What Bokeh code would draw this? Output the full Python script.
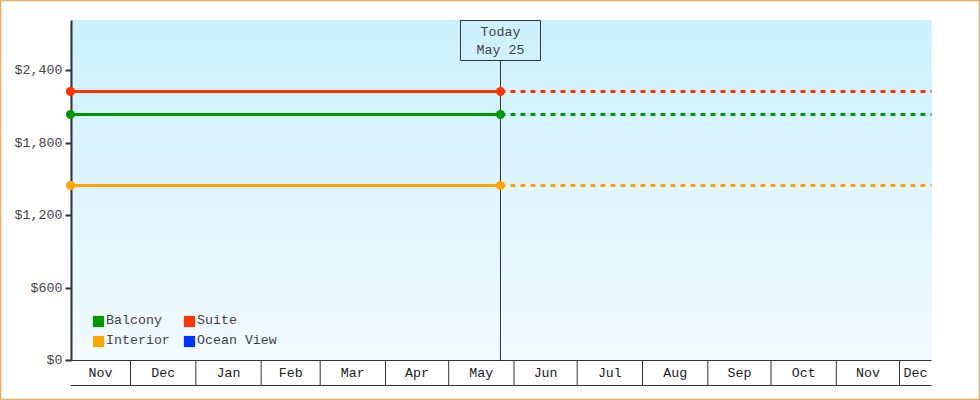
from datetime import datetime, timedelta, timezone
from bokeh.plotting import figure
from bokeh.models import Range1d, LinearAxis, FixedTicker, Legend, LegendItem
from bokeh.core.properties import value
from bokeh.embed import file_html
from bokeh.resources import INLINE

FONT = "Liberation Mono"
FS = "13.3px"
INK = "#333333"
TEXT = "#444444"

series_names = ["Balcony", "Interior", "Suite", "Ocean View"]
series_colors = ["#009900", "#ffa500", "#ff3300", "#0033ff"]
balcony = [2036, 2036, 2036]
interior = [1448, 1448, 1448]
suite = [2226, 2226, 2226]

start_date = datetime(2018, 11, 2, 12)
today_date = datetime(2019, 5, 25, 14)
end_date = datetime(2019, 12, 16, 4)
x_dates = [start_date, today_date, end_date]

month_labels = ["Nov", "Dec", "Jan", "Feb", "Mar", "Apr", "May", "Jun",
                "Jul", "Aug", "Sep", "Oct", "Nov", "Dec"]
month_edges = [start_date, datetime(2018, 12, 1), datetime(2019, 1, 1), datetime(2019, 2, 1),
               datetime(2019, 3, 1), datetime(2019, 4, 1), datetime(2019, 5, 1), datetime(2019, 6, 1),
               datetime(2019, 7, 1), datetime(2019, 8, 1), datetime(2019, 9, 1), datetime(2019, 10, 1),
               datetime(2019, 11, 1), datetime(2019, 12, 1), end_date]
y_ticks = [0, 600, 1200, 1800, 2400]
y_tick_labels = ["$0", "$600", "$1,200", "$1,800", "$2,400"]

# pixel layout: the frame fills the page; scales are set so that the plot area falls where it should
W, H = 980, 400
PX_L, PX_R, PX_T, PX_B, PX_AX = 70, 931, 19.5, 360, 385
px_per_value = (PX_B - 70) / 2400
span = (end_date - start_date).total_seconds()
sec_per_px = span / (PX_R - PX_L)
x0 = start_date - timedelta(seconds=sec_per_px * PX_L)
x1 = start_date + timedelta(seconds=sec_per_px * (W - PX_L))
y_of = lambda px: (PX_B - px) / px_per_value

p = figure(width=W, height=H, output_backend="svg", toolbar_location=None,
           x_range=Range1d(x0, x1), y_range=Range1d(y_of(H), y_of(0)),
           x_axis_location=None, y_axis_location=None, min_border=0,
           background_fill_color="white",
           border_fill_color="white", outline_line_color="#f0ad60", outline_line_width=1.5)
p.grid.visible = False

# gradient background: bands painted over one another, so no seams show
top, bot = (204, 240, 255), (241, 250, 255)
bands = 85
for_t = [i / (bands - 1) for i in range(bands)]
cols = ["#%02x%02x%02x" % tuple(round(a + (b - a) * t) for a, b in zip(top, bot)) for t in for_t]
step = (PX_B - PX_T) / bands
p.quad(left=start_date, right=end_date,
       top=[y_of(PX_T + i * step) for i in range(bands)],
       bottom=0,
       fill_color=cols, line_color=None, level="image")

# y axis (sits 1px right of the first month's start, like the reference's)
axis_x = start_date.replace(tzinfo=timezone.utc).timestamp() * 1000 + sec_per_px * 1000
yaxis = LinearAxis(fixed_location=axis_x, ticker=FixedTicker(ticks=y_ticks),
                   major_label_overrides=dict(zip(y_ticks, y_tick_labels)),
                   bounds=(0, y_of(PX_T)), level="underlay",
                   axis_line_color=INK, axis_line_width=2,
                   major_tick_line_color=INK, major_tick_line_width=2,
                   major_tick_in=0, major_tick_out=6, minor_tick_line_color=None,
                   major_label_text_font=FONT, major_label_text_font_size=FS,
                   major_label_text_color=TEXT, major_label_standoff=3)
p.add_layout(yaxis, "left")

# month strip
y_low = y_of(PX_AX)
p.segment(x0=month_edges[1:-1], x1=month_edges[1:-1], y0=0, y1=y_low, line_color=INK, line_width=1)
p.segment(x0=[start_date, start_date], x1=[end_date, end_date], y0=[0, y_low], y1=[0, y_low],
          line_color=INK, line_width=1)
mids = [a + (b - a) / 2 for a, b in zip(month_edges[:-1], month_edges[1:])]
p.text(x=mids, y=y_of(373), text=month_labels, text_align="center", text_baseline="middle",
       text_font=value(FONT), text_font_size=FS, text_color="#222222")

# today marker (drawn under the series points)
p.segment(x0=[today_date], x1=[today_date], y0=0, y1=y_of(60), line_color=INK, line_width=1)
p.rect(x=[today_date], y=[y_of(40)], width=80, height=40, width_units="screen", height_units="screen",
       fill_color=None, line_color=INK, line_width=1)
p.text(x=[today_date, today_date], y=[y_of(32), y_of(50)], text=["Today", "May 25"],
       text_align="center", text_baseline="middle",
       text_font=value(FONT), text_font_size=FS, text_color=TEXT)

# series
for vals, col in zip([balcony, interior, suite], series_colors):
    p.line(x_dates[:2], vals[:2], line_color=col, line_width=3)
    p.line(x_dates[1:], vals[1:], line_color=col, line_width=3, line_dash="5 5")
    p.scatter(x_dates[:2], vals[:2], marker="circle", size=9, fill_color=col, line_color=None)

# legend
swatches = [p.quad(left=[start_date], right=[start_date], top=[0], bottom=[0], fill_color=c, line_color=None)
            for c in series_colors]
legend = Legend(items=[LegendItem(label=n, renderers=[r]) for n, r in zip(series_names, swatches)],
                ncols=2, location=(91, 52), glyph_width=14, glyph_height=14, label_standoff=1,
                spacing=5, margin=0, padding=0, background_fill_alpha=0, border_line_color=None,
                label_text_font=FONT, label_text_font_size=FS, label_text_color=TEXT,
                label_height=15, label_width=71, label_text_baseline="middle")
p.add_layout(legend, "center")

open("out.html", "w").write(file_html(p, INLINE))
